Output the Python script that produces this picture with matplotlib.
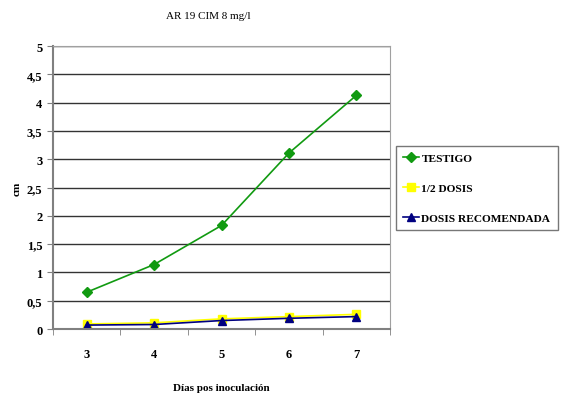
import matplotlib.pyplot as plt
import numpy as np

dias = [3, 4, 5, 6, 7]
testigo = [0.65, 1.14, 1.83, 3.11, 4.13]
media_dosis = [0.09, 0.11, 0.18, 0.22, 0.26]
dosis_recomendada = [0.07, 0.08, 0.15, 0.19, 0.22]
yticks = [0, 0.5, 1, 1.5, 2, 2.5, 3, 3.5, 4, 4.5, 5]
ytick_labels = ["0", "0,5", "1", "1,5", "2", "2,5", "3", "3,5", "4", "4,5", "5"]

plt.rcParams['font.family'] = ['Liberation Serif', 'DejaVu Serif']

fig = plt.figure(figsize=(5.63, 4.02), dpi=100)
ax = fig.add_axes([0.094, 0.179, 0.599, 0.704])

x = np.arange(len(dias))
ax.plot(x, testigo, color='#119a11', marker='D', markersize=5, lw=1.2, label='TESTIGO')
ax.plot(x, media_dosis, color='#ffff00', marker='s', markersize=6, lw=1.2, label='1/2 DOSIS')
ax.plot(x, dosis_recomendada, color='#000080', marker='^', markersize=6, lw=1.2, label='DOSIS RECOMENDADA')

ax.set_xlim(-0.5, len(dias) - 0.5)
ax.set_ylim(0, 5)
ax.set_xticks(x)
ax.set_xticklabels([str(d) for d in dias], fontweight='bold', fontsize=9)
ax.set_xticks(np.arange(-0.5, len(dias)), minor=True)
ax.tick_params(axis='x', which='major', length=0, pad=14)
ax.tick_params(axis='x', which='minor', length=4, color='#808080')
ax.set_yticks(yticks)
ax.set_yticklabels(ytick_labels, fontweight='bold', fontsize=9)
ax.tick_params(axis='y', length=4, color='#808080')
ax.yaxis.grid(True, color='#333333', lw=1)
ax.set_axisbelow(True)
for side in ['top', 'right']:
    ax.spines[side].set_color('#a0a0a0')
for side in ['left', 'bottom']:
    ax.spines[side].set_color('#808080')
    ax.spines[side].set_linewidth(1.5)

ax.set_ylabel('cm', fontweight='bold', fontsize=8, labelpad=4)
ax.set_xlabel('Días pos inoculación', fontweight='bold', fontsize=8, labelpad=16)
fig.text(0.37, 0.96, 'AR 19 CIM 8 mg/l', ha='center', va='center', fontsize=8)

leg = fig.legend(loc='upper left', bbox_to_anchor=(0.703, 0.635), frameon=True,
                 fancybox=False, edgecolor='#555555', borderpad=0.65, labelspacing=1.75,
                 handlelength=1.4, handletextpad=0.2, borderaxespad=0,
                 prop={'weight': 'bold', 'size': 8.2})
leg.get_frame().set_linewidth(1)

fig.savefig('out.png', dpi=100)
